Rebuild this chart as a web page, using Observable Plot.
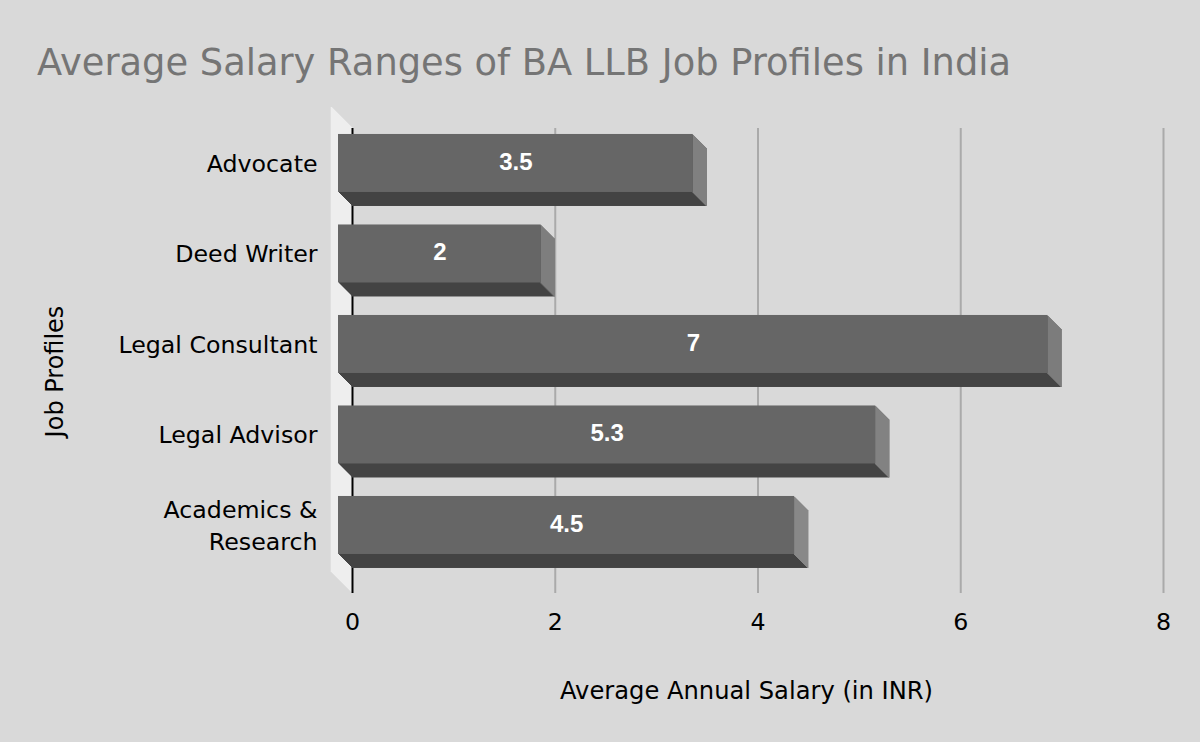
<!DOCTYPE html>
<html>
<head>
<meta charset="utf-8">
<script src="https://cdn.jsdelivr.net/npm/d3@7"></script>
<script src="https://cdn.jsdelivr.net/npm/@observablehq/plot@0.6"></script>
<style>
  html, body { margin: 0; padding: 0; background: #d9d9d9; }
  #wrap { position: relative; width: 1200px; height: 742px; overflow: hidden; }
  #title { position: absolute; left: 37px; top: 45px; font-family: "DejaVu Sans", sans-serif; font-size: 36.8px; line-height: 1; color: #757575; white-space: nowrap; }
  #chart { position: absolute; left: 0; top: 0; }
</style>
</head>
<body>
<div id="wrap">
  <div id="chart"></div>
  <div id="title">Average Salary Ranges of BA LLB Job Profiles in India</div>
</div>
<script>
const categories = ["Advocate", "Deed Writer", "Legal Consultant", "Legal Advisor", "Academics &\nResearch"];
const salaries = [3.5, 2, 7, 5.3, 4.5];
const xTicks = [0, 2, 4, 6, 8];
const xTitle = "Average Annual Salary (in INR)";
const yTitle = "Job Profiles";

const data = categories.map((c, i) => ({cat: c, value: salaries[i]}));

const DEPTH = 14;      // bar depth (px)
const WALL = 21;       // wall depth (px)
const FONT = "DejaVu Sans";

const marks = [];
// left wall (extruded)
for (let k = 0; k <= WALL; k++) {
  marks.push(Plot.ruleX([0], {stroke: "#eeeeee", strokeWidth: 1.6, dx: -k, dy: -k}));
}
// gridlines
marks.push(Plot.ruleX(xTicks.filter(d => d !== 0), {stroke: "#aaaaaa", strokeWidth: 2}));
// zero axis line
marks.push(Plot.ruleX([0], {stroke: "#000000", strokeWidth: 2}));
// bar extrusion (bottom faces)
for (let k = 0; k < DEPTH; k++) {
  marks.push(Plot.barX(data, {x1: 0, x2: "value", y: "cat", fill: "#444444", dx: -k, dy: -k}));
}
// right side faces
for (let k = 0; k < DEPTH; k++) {
  marks.push(Plot.barX(data, {x1: "value", x2: "value", y: "cat", insetLeft: -1.2, fill: "#888888", dx: -k, dy: -k}));
}
// front faces
marks.push(Plot.barX(data, {x1: 0, x2: "value", y: "cat", fill: "#666666", dx: -DEPTH, dy: -DEPTH}));
// value labels
marks.push(Plot.text(data, {
  x: d => d.value / 2, y: "cat", text: d => String(d.value),
  dx: -DEPTH, dy: -DEPTH - 1.5, fill: "white", fontWeight: "bold",
  fontSize: 24, fontFamily: "Liberation Sans, Arial, sans-serif"
}));
// category labels
marks.push(Plot.text(data, {
  y: "cat", text: "cat", frameAnchor: "left", textAnchor: "end",
  dx: -35, dy: -DEPTH - 1.5, fontSize: 23.7, fontFamily: FONT, fill: "#000", lineHeight: 1.32
}));
// x tick labels
marks.push(Plot.text(xTicks, {
  x: d => d, text: d => String(d), frameAnchor: "bottom", dy: 36,
  fontSize: 23.7, fontFamily: FONT, fill: "#000"
}));
// axis titles
marks.push(Plot.text([xTitle], {
  text: d => d, frameAnchor: "bottom", textAnchor: "middle", dx: -11.5, dy: 105,
  fontSize: 24.2, fontFamily: FONT, fill: "#000"
}));
marks.push(Plot.text([yTitle], {
  text: d => d, frameAnchor: "left", textAnchor: "middle", dx: -297, dy: 10.5, rotate: -90,
  fontSize: 24, fontFamily: FONT, fill: "#000"
}));

const chart = Plot.plot({
  width: 1200,
  height: 742,
  marginTop: 128,
  marginBottom: 149,
  marginLeft: 352,
  marginRight: 37,
  style: {background: "transparent", fontFamily: FONT},
  x: {domain: [0, 8], axis: null},
  y: {domain: categories, axis: null, round: false, paddingInner: 0.359, paddingOuter: 0.2486, align: 0.444},
  marks
});
document.getElementById("chart").appendChild(chart);
</script>
</body>
</html>
